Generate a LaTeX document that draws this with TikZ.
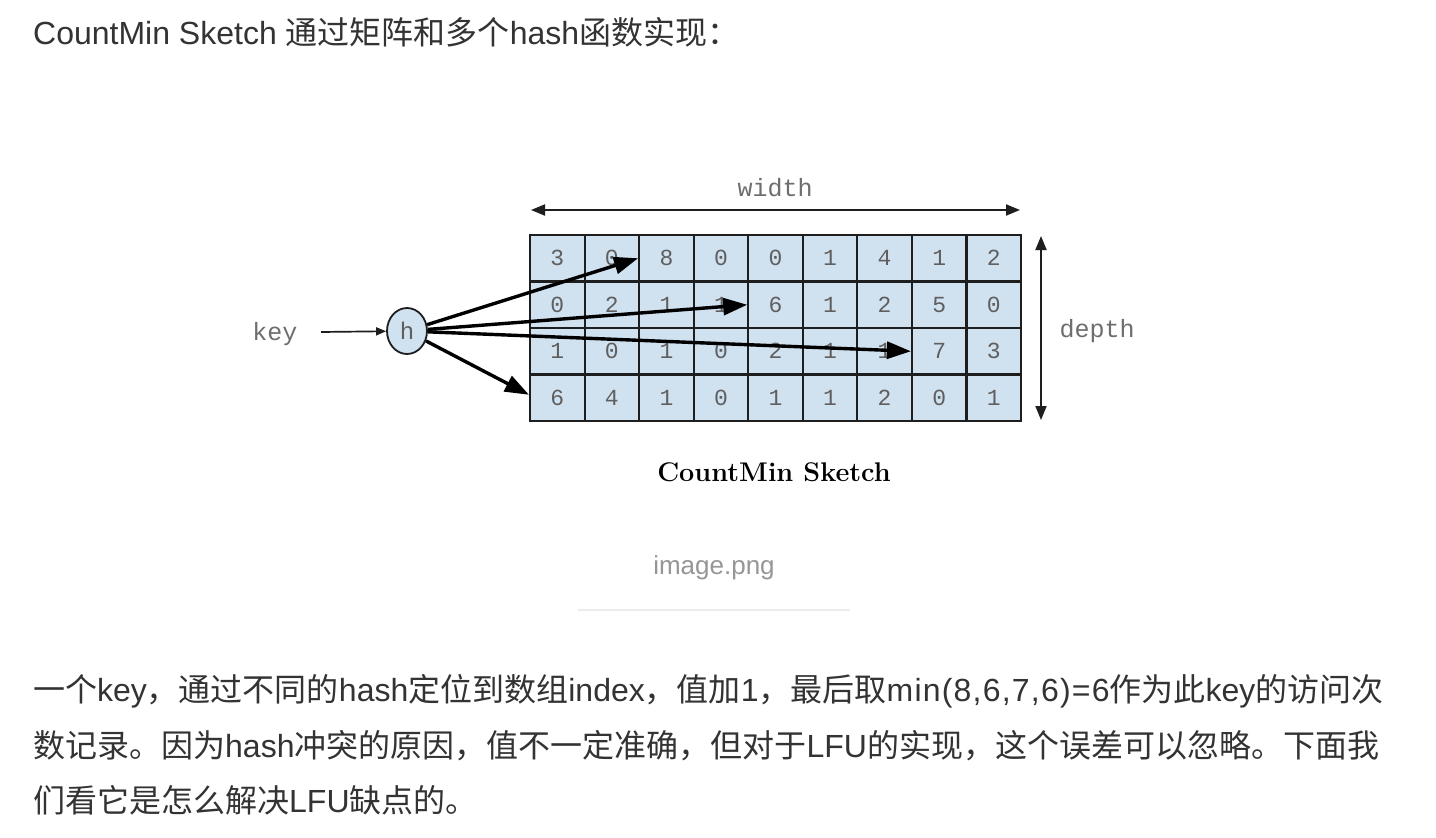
\documentclass[tikz,border=0pt]{standalone}
\usepackage{fontspec}
\usetikzlibrary{arrows.meta,shapes.geometric}
\newfontfamily\bodyfont{Liberation Sans}
\newfontfamily\cjk{Noto Sans CJK SC}
\newfontfamily\cmono{Liberation Mono}
\definecolor{cellblue}{RGB}{208,225,240}
\definecolor{txt}{RGB}{51,51,51}
\definecolor{gridline}{RGB}{30,30,30}
\definecolor{numgrey}{RGB}{95,95,95}
\definecolor{lblgrey}{RGB}{110,110,110}
\definecolor{capgrey}{RGB}{150,150,150}
\definecolor{rulegrey}{RGB}{236,236,236}
\tikzset{
  bodytext/.style={anchor=base west, inner sep=0pt, text=txt, font=\bodyfont\fontsize{32}{38}\selectfont},
  cellbox/.style={draw=gridline, line width=2.1pt, fill=cellblue, minimum width=54.56pt, minimum height=46.5pt, inner sep=0pt, text=numgrey, font=\cmono\fontsize{23}{23}\selectfont},
  hnode/.style={ellipse, draw=gridline, line width=1.8pt, fill=cellblue, minimum width=40pt, minimum height=46pt, inner sep=0pt, text=numgrey, font=\cmono\fontsize{24}{24}\selectfont},
  bigarrow/.style={line width=3.4pt, black, -{Triangle[length=24pt,width=17pt]}},
  dimarrow/.style={line width=1.9pt, gridline, {Triangle[length=14pt,width=11pt]}-{Triangle[length=14pt,width=11pt]}},
  keyarrow/.style={line width=1.7pt, gridline, -{Triangle[length=10pt,width=8pt]}},
  monolabel/.style={inner sep=0pt, text=lblgrey, font=\cmono\fontsize{25}{25}\selectfont}
}
\begin{document}
\begin{tikzpicture}[x=1pt,y=-1pt]
\useasboundingbox[fill=white] (0,0) rectangle (1436,838);

% heading text
\node[bodytext] (t1) at (33,44.5) {CountMin Sketch {\cjk 通过矩阵和多个}hash{\cjk 函数实现：}};

% grid
\foreach \row/\vals in {0/{3,0,8,0,0,1,4,1,2},1/{0,2,1,1,6,1,2,5,0},2/{1,0,1,0,2,1,1,7,3},3/{6,4,1,0,1,1,2,0,1}} {
  \foreach \v [count=\c from 0] in \vals {
    \node[cellbox] (c\row\c) at ({530+(\c+0.5)*54.56},{235+(\row+0.5)*46.5}) {\v};
  }
}

% hash node and key
\node[hnode] (h) at (407,331) {h};
\node[monolabel] (key) at (275,334) {key};
\coordinate (ks) at (321,332);
\draw[keyarrow] (ks) -- (h);

% arrows from h
\draw[bigarrow] (h) -- (c02.west);
\draw[bigarrow] (h) -- (c14.west);
\draw[bigarrow] (h) -- (c27.west);
\draw[bigarrow] (h) -- ([yshift=3pt]c30.west);

% width / depth
\coordinate (wl) at (531,210);
\coordinate (wr) at (1020,210);
\draw[dimarrow] (wl) -- (wr);
\node[monolabel] (wlab) at (775,188) {width};
\coordinate (dt) at (1041,236);
\coordinate (db) at (1041,420);
\draw[dimarrow] (dt) -- (db);
\node[monolabel] (dlab) at (1097,331) {depth};

% caption
\node[inner sep=0pt, text=black, font=\bfseries\fontsize{27}{27}\selectfont] (cap) at (774,472) {CountMin Sketch};
\node[inner sep=0pt, text=capgrey, font=\bodyfont\fontsize{26}{26}\selectfont] (img) at (714,568) {image.png};
\coordinate (r1) at (578,610);
\coordinate (r2) at (850,610);
\draw[line width=2pt, rulegrey] (r1) -- (r2);

% paragraph
\node[bodytext] (p1) at (33,701) {{\cjk 一个}key{\cjk ，通过不同的}hash{\cjk 定位到数组}index{\cjk ，值加}1{\cjk ，最后取}\makebox[223pt][s]{m\hfil i\hfil n\hfil (\hfil 8\hfil ,\hfil 6\hfil ,\hfil 7\hfil ,\hfil 6\hfil )\hfil =\hfil 6}{\cjk 作为此}key{\cjk 的访问次}};
\node[bodytext] (p2) at (33,757) {{\cjk 数记录。因为}hash{\cjk 冲突的原因，值不一定准确，但对于}LFU{\cjk 的实现，这个误差可以忽略。下面我}};
\node[bodytext] (p3) at (33,812) {{\cjk 们看它是怎么解决}LFU{\cjk 缺点的。}};
\end{tikzpicture}
\end{document}
